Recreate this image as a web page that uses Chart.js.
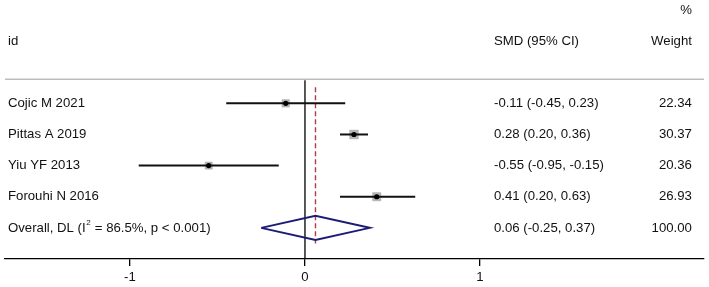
<!DOCTYPE html>
<html>
<head>
<meta charset="utf-8">
<script src="https://cdn.jsdelivr.net/npm/chart.js@4/dist/chart.umd.min.js"></script>
<style>
html,body{margin:0;padding:0;background:#fff;}
#wrap{width:709px;height:287px;}
</style>
</head>
<body>
<div id="wrap"><canvas id="c"></canvas></div>
<script>
// ---- data ----
const studies = ["Cojic M 2021", "Pittas A 2019", "Yiu YF 2013", "Forouhi N 2016"];
const smd     = [-0.11, 0.28, -0.55, 0.41];
const lower   = [-0.45, 0.20, -0.95, 0.20];
const upper   = [0.23, 0.36, -0.15, 0.63];
const weights = [22.34, 30.37, 20.36, 26.93];
const smdText = ["-0.11 (-0.45, 0.23)", "0.28 (0.20, 0.36)", "-0.55 (-0.95, -0.15)", "0.41 (0.20, 0.63)"];
const weightText = ["22.34", "30.37", "20.36", "26.93"];
const overall = { est: 0.06, lo: -0.25, hi: 0.37, text: "0.06 (-0.25, 0.37)", weight: "100.00" };
const xTicks = [-1, 0, 1];

// ---- layout constants (style) ----
const XMIN = -1.714, XMAX = 2.28;
const YMIN = -2.32, YMAX = 6;
const overallRow = studies.length + 1;
const FAM = "'Liberation Sans', Arial, sans-serif";
const FONT = "13.2px " + FAM;
const TXT = "#111";

const datasets = [];
// CI lines
studies.forEach((s, i) => {
  datasets.push({
    type: 'line', data: [{x: lower[i], y: i + 1}, {x: upper[i], y: i + 1}],
    borderColor: '#111', borderWidth: 2, pointRadius: 0, order: 2
  });
});
// weight boxes
datasets.push({
  type: 'scatter', data: smd.map((v, i) => ({x: v, y: i + 1})),
  pointStyle: 'rect', pointRadius: weights.map(w => 1.12 * Math.sqrt(w)),
  backgroundColor: '#b4b4b4', borderColor: '#a8a8a8', borderWidth: 0.5, order: 3
});
// center dots
datasets.push({
  type: 'scatter', data: smd.map((v, i) => ({x: v, y: i + 1})),
  pointStyle: 'circle', pointRadius: 2.6, backgroundColor: '#000', borderWidth: 0, order: 0
});
// diamond
const dh = 0.39;
datasets.push({
  type: 'line',
  data: [{x: overall.lo, y: overallRow}, {x: overall.est, y: overallRow - dh}, {x: overall.hi, y: overallRow},
         {x: overall.est, y: overallRow + dh}, {x: overall.lo, y: overallRow}],
  borderColor: '#1c1c78', borderWidth: 2, pointRadius: 0, tension: 0, order: 1
});
// null line
datasets.push({
  type: 'line', data: [{x: 0, y: 0.26}, {x: 0, y: YMAX}],
  borderColor: '#000', borderWidth: 1.3, pointRadius: 0, order: 4
});
// overall dashed line
datasets.push({
  type: 'line', data: [{x: overall.est, y: 0.48}, {x: overall.est, y: 5.5}],
  borderColor: '#b03a4a', borderWidth: 1.4, borderDash: [5, 3], pointRadius: 0, order: 4
});
// header separator
datasets.push({
  type: 'line', data: [{x: XMIN, y: 0.226}, {x: XMAX, y: 0.226}],
  borderColor: '#bdbdbd', borderWidth: 1.5, pointRadius: 0, order: 5
});

const textPlugin = {
  id: 'forestText',
  afterDatasetsDraw(chart) {
    const ctx = chart.ctx;
    const ys = chart.scales.y;
    const xs = chart.scales.x;
    const colSMD = xs.getPixelForValue(1.08);
    const colW = xs.getPixelForValue(2.211);
    const labelX = 8;
    ctx.save();
    ctx.font = FONT;
    ctx.fillStyle = TXT;
    ctx.textBaseline = 'middle';
    // headers
    ctx.textAlign = 'left';
    ctx.fillText("id", labelX, ys.getPixelForValue(-1));
    ctx.fillText("SMD (95% CI)", colSMD, ys.getPixelForValue(-1));
    ctx.textAlign = 'right';
    ctx.fillText("%", colW, ys.getPixelForValue(-2));
    ctx.fillText("Weight", colW, ys.getPixelForValue(-1));
    // rows
    studies.forEach((s, i) => {
      const y = ys.getPixelForValue(i + 1);
      ctx.textAlign = 'left';
      ctx.fillText(s, labelX, y);
      ctx.fillText(smdText[i], colSMD, y);
      ctx.textAlign = 'right';
      ctx.fillText(weightText[i], colW, y);
    });
    // overall
    const yo = ys.getPixelForValue(overallRow);
    ctx.textAlign = 'left';
    let x = labelX;
    const p1 = "Overall, DL (I";
    ctx.fillText(p1, x, yo);
    x += ctx.measureText(p1).width;
    ctx.font = "8px " + FAM;
    ctx.fillText("2", x + 0.5, yo - 5);
    x += ctx.measureText("2").width + 1;
    ctx.font = FONT;
    ctx.fillText(" = 86.5%, p < 0.001)", x, yo);
    ctx.fillText(overall.text, colSMD, yo);
    ctx.textAlign = 'right';
    ctx.fillText(overall.weight, colW, yo);
    ctx.restore();
  }
};

new Chart(document.getElementById('c'), {
  data: { datasets },
  options: {
    responsive: true, maintainAspectRatio: false, animation: false,
    layout: { autoPadding: false, padding: { left: 5, right: 5, top: 0, bottom: 0 } },
    plugins: { legend: { display: false }, tooltip: { enabled: false } },
    scales: {
      x: {
        type: 'linear', min: XMIN, max: XMAX,
        afterBuildTicks: (s) => { s.ticks = xTicks.map(v => ({value: v})); },
        afterFit: (s) => { s.height = 28; },
        grid: { drawOnChartArea: false, drawTicks: true, tickLength: 7, color: '#000', lineWidth: 1.3 },
        border: { display: true, color: '#000', width: 1.3 },
        ticks: { color: TXT, font: { family: FAM, size: 13.2, lineHeight: 1.0 }, padding: 5, maxRotation: 0 }
      },
      y: {
        type: 'linear', reverse: true, min: YMIN, max: YMAX, display: false
      }
    }
  },
  plugins: [textPlugin]
});
</script>
</body>
</html>
